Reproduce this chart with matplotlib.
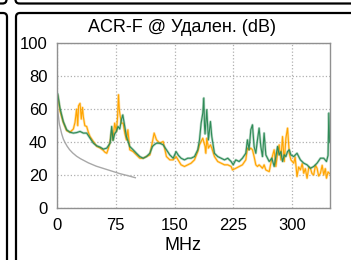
import matplotlib
matplotlib.use("Agg")
import matplotlib.pyplot as plt
from matplotlib.patches import FancyBboxPatch
from matplotlib.transforms import IdentityTransform

plt.rcParams['font.family'] = ['Liberation Sans', 'DejaVu Sans']

# green trace (MHz, dB)
green_f = [1, 3.8, 8, 12.3, 16.6, 20.9, 25, 29.4, 33.6, 37.9, 42.2, 46.4, 50.7, 55, 59.2,
           63.5, 67.8, 69.8, 71.5, 73.6, 75.8, 77.9, 80.1, 82.2, 84, 86.5, 88.6, 92.9, 97.2,
           101.4, 105.7, 110, 114.2, 118.5, 121.9, 124, 127, 131.2, 135.5, 139.7, 144, 148.3,
           152, 155, 158.4, 162.7, 166.9, 171.2, 175.5, 179.7, 181.9, 184, 186.1, 187.4, 188.3,
           189, 191.2, 193.3, 195.9, 197.6, 201, 205.2, 209.5, 213.8, 218, 222.3, 224.9, 228.2,
           232.5, 236.7, 241, 243.1, 245.2, 247.4, 249.5, 251.6, 253.8, 255.9, 258, 260.2, 262.3,
           264.4, 266.6, 270.9, 274.3, 277.2, 279.4, 281.5, 283.6, 285.8, 287.9, 290.1, 292.2,
           294.3, 296.5, 298.6, 302.2, 306.4, 310.7, 315, 319.2, 323.5, 327.7, 332, 336.3, 340.5,
           344, 346, 347, 348]
green_db = [69, 60.6, 52.5, 47.5, 46, 45.5, 45.8, 46.5, 45.5, 45.5, 42.4, 39.4, 37.8, 37, 35.8,
            36.4, 39.4, 49.5, 41, 45, 46.5, 49.5, 48, 53.5, 56.5, 49.5, 43.4, 37.4, 35.4,
            33.3, 31.3, 30.3, 31.3, 33.3, 37.4, 38.4, 39.4, 39.4, 38.4, 35.4, 32.3, 30.3,
            34.3, 32, 30.3, 29.3, 30.3, 30.3, 31.3, 35.4, 41.4, 51.5, 57.6, 66.7, 50,
            45, 59.6, 41.4, 52.5, 43.4, 33.3, 31.3, 30.3, 29.3, 30.3, 28.3, 26.3, 29.3,
            28.3, 30.3, 33.3, 41.4, 35.4, 47.5, 50.5, 37.4, 33.3, 41.4, 48.5, 37.4, 31.3,
            45.5, 32.3, 28.3, 30.3, 25.3, 31.3, 37.4, 32.3, 34.3, 28.3, 32.3, 31.3,
            34.3, 35.4, 32.3, 31.3, 33.3, 29.3, 27.3, 26.3, 24.2, 25.3, 27.3, 30.3, 30.3,
            28.3, 32, 57.6, 40]

# orange trace (MHz, dB)
orange_f = [1, 3.8, 8, 12.3, 16.6, 20.9, 23, 25, 26.5, 27.5, 29.4, 31, 32.5, 33.6, 35.5, 37.9,
            40, 42.2, 46.4, 50.7, 55, 59.2, 61, 63.5, 65.5, 67.8, 69.8, 71.5, 73.6, 75.8, 77.3,
            78.5, 79.5, 80.1, 82.2, 84.4, 86.5, 88.6, 90.5, 92.9, 97.2, 101.4, 105.7, 110, 114.2,
            118.5, 121.9, 124, 127, 131.2, 135.5, 139.7, 144, 148.3, 152, 158.4, 162.7, 166.9,
            171.2, 175.5, 179.7, 181.9, 184, 186.1, 189, 190, 191.2, 193.3, 195.9, 197.6, 201,
            205.2, 209.5, 213.8, 218, 222.3, 224, 228.2, 232.5, 236.7, 241, 243.1, 245.2, 247.4,
            249.5, 251.6, 253.8, 255.9, 258, 260.2, 262.3, 264.4, 266.6, 270.9, 274.3, 277.2,
            279.4, 281.5, 283.6, 285.8, 287.9, 290.1, 292.2, 294.3, 296.5, 298.6, 302.2, 304,
            306.4, 308.5, 310.7, 313, 315, 317, 319.2, 321.5, 323.5, 325.5, 327.7, 330, 332, 334,
            336.3, 338.5, 340.5, 342.5, 344, 346, 348]
orange_db = [68, 59, 52, 47, 46, 48, 52, 60, 50, 62, 63.5, 54, 61, 55.5, 50, 49.5,
             46, 43.4, 40.4, 37.5, 36.5, 35, 34, 33.3, 36, 40.4, 47, 41.4, 51.5, 46.5, 55,
             68.7, 60, 57.6, 51.5, 51.5, 45.5, 41.4, 47.5, 35.4, 34.3, 32.3, 30.3, 30.3, 31.3,
             32.3, 40.4, 45.5, 41.4, 39.4, 40.4, 31.3, 29.3, 29.3, 31.3, 26.3, 25.3, 26.3,
             27.3, 29.3, 34.3, 38.4, 40.4, 42.4, 37.4, 33.3, 42.4, 36.4, 38.4, 36.4, 31.3,
             28.3, 27.3, 26.3, 26.3, 25.3, 23.2, 24.2, 25.3, 26.3, 29.3, 36.4, 35.4, 36.4,
             35.4, 31.3, 26.3, 25.3, 26.3, 25.3, 24.2, 26.3, 23.2, 22.2, 30.3, 35.4,
             25.3, 33.3, 38.4, 29.3, 43.4, 28.3, 42.4, 48.5, 33.3, 29.3, 27.3, 31,
             19.2, 25, 23.2, 27, 21.2, 24, 18.2, 25, 24.2, 21, 20.2, 26, 24.2, 19.5,
             21.2, 26, 20.2, 24, 18.2, 22, 21]

# limit line (gray)
limit_f = [1, 2, 3, 4, 6, 8, 10, 13, 16, 20, 25, 30, 40, 50, 60, 70, 80, 90, 100]
limit_db = [59, 55, 51, 49, 45, 42, 40, 37.5, 35.5, 33.5, 31.5, 30, 27.5, 25.5, 24, 22.5,
            21, 19.8, 18.5]

x_ticks = [0, 75, 150, 225, 300]
y_ticks = [0, 20, 40, 60, 80, 100]

fig = plt.figure(figsize=(3.51, 2.6), dpi=100)
ax = fig.add_axes([57 / 351, 51.7 / 260, 273 / 351, 165.3 / 260])

ax.plot(limit_f, limit_db, color='#a8a8a8', linewidth=1.0)
ax.plot(orange_f, orange_db, color='#ffa500', linewidth=1.8, alpha=0.35)
ax.plot(orange_f, orange_db, color='#ffa500', linewidth=0.8)
ax.plot(green_f, green_db, color='#2e8b57', linewidth=1.8, alpha=0.35)
ax.plot(green_f, green_db, color='#2e8b57', linewidth=0.8)

ax.set_xlim(0, 348.5)
ax.set_ylim(0, 100)
ax.set_xticks(x_ticks)
ax.set_yticks(y_ticks)
ax.tick_params(length=0, labelsize=12, colors='black')
ax.tick_params(axis='x', pad=7)
ax.tick_params(axis='y', pad=7)
ax.grid(True, color='#b0b0b0', linestyle=':', linewidth=0.9)
for s in ax.spines.values():
    s.set_color('#909090')
    s.set_linewidth(1.0)

fig.text(182.5 / 351, 232 / 260, 'ACR-F @ Удален. (dB)', ha='center', va='center', fontsize=13)
fig.text(182.5 / 351, 14 / 260, 'MHz', ha='center', va='center', fontsize=13)

# dashboard panel borders around the chart
panels = [(16, -60, 420, 247), (-100, -60, 7, 247), (-100, 256.5, 6.5, 400), (15.5, 256.5, 420, 400)]
for x0, y0, x1, y1 in panels:
    p = FancyBboxPatch((x0, y0), x1 - x0, y1 - y0, boxstyle='round,pad=0,rounding_size=4',
                       linewidth=1.6, edgecolor='black', facecolor='none',
                       transform=IdentityTransform(), clip_on=False)
    fig.add_artist(p)

fig.savefig('out.png', dpi=100)
